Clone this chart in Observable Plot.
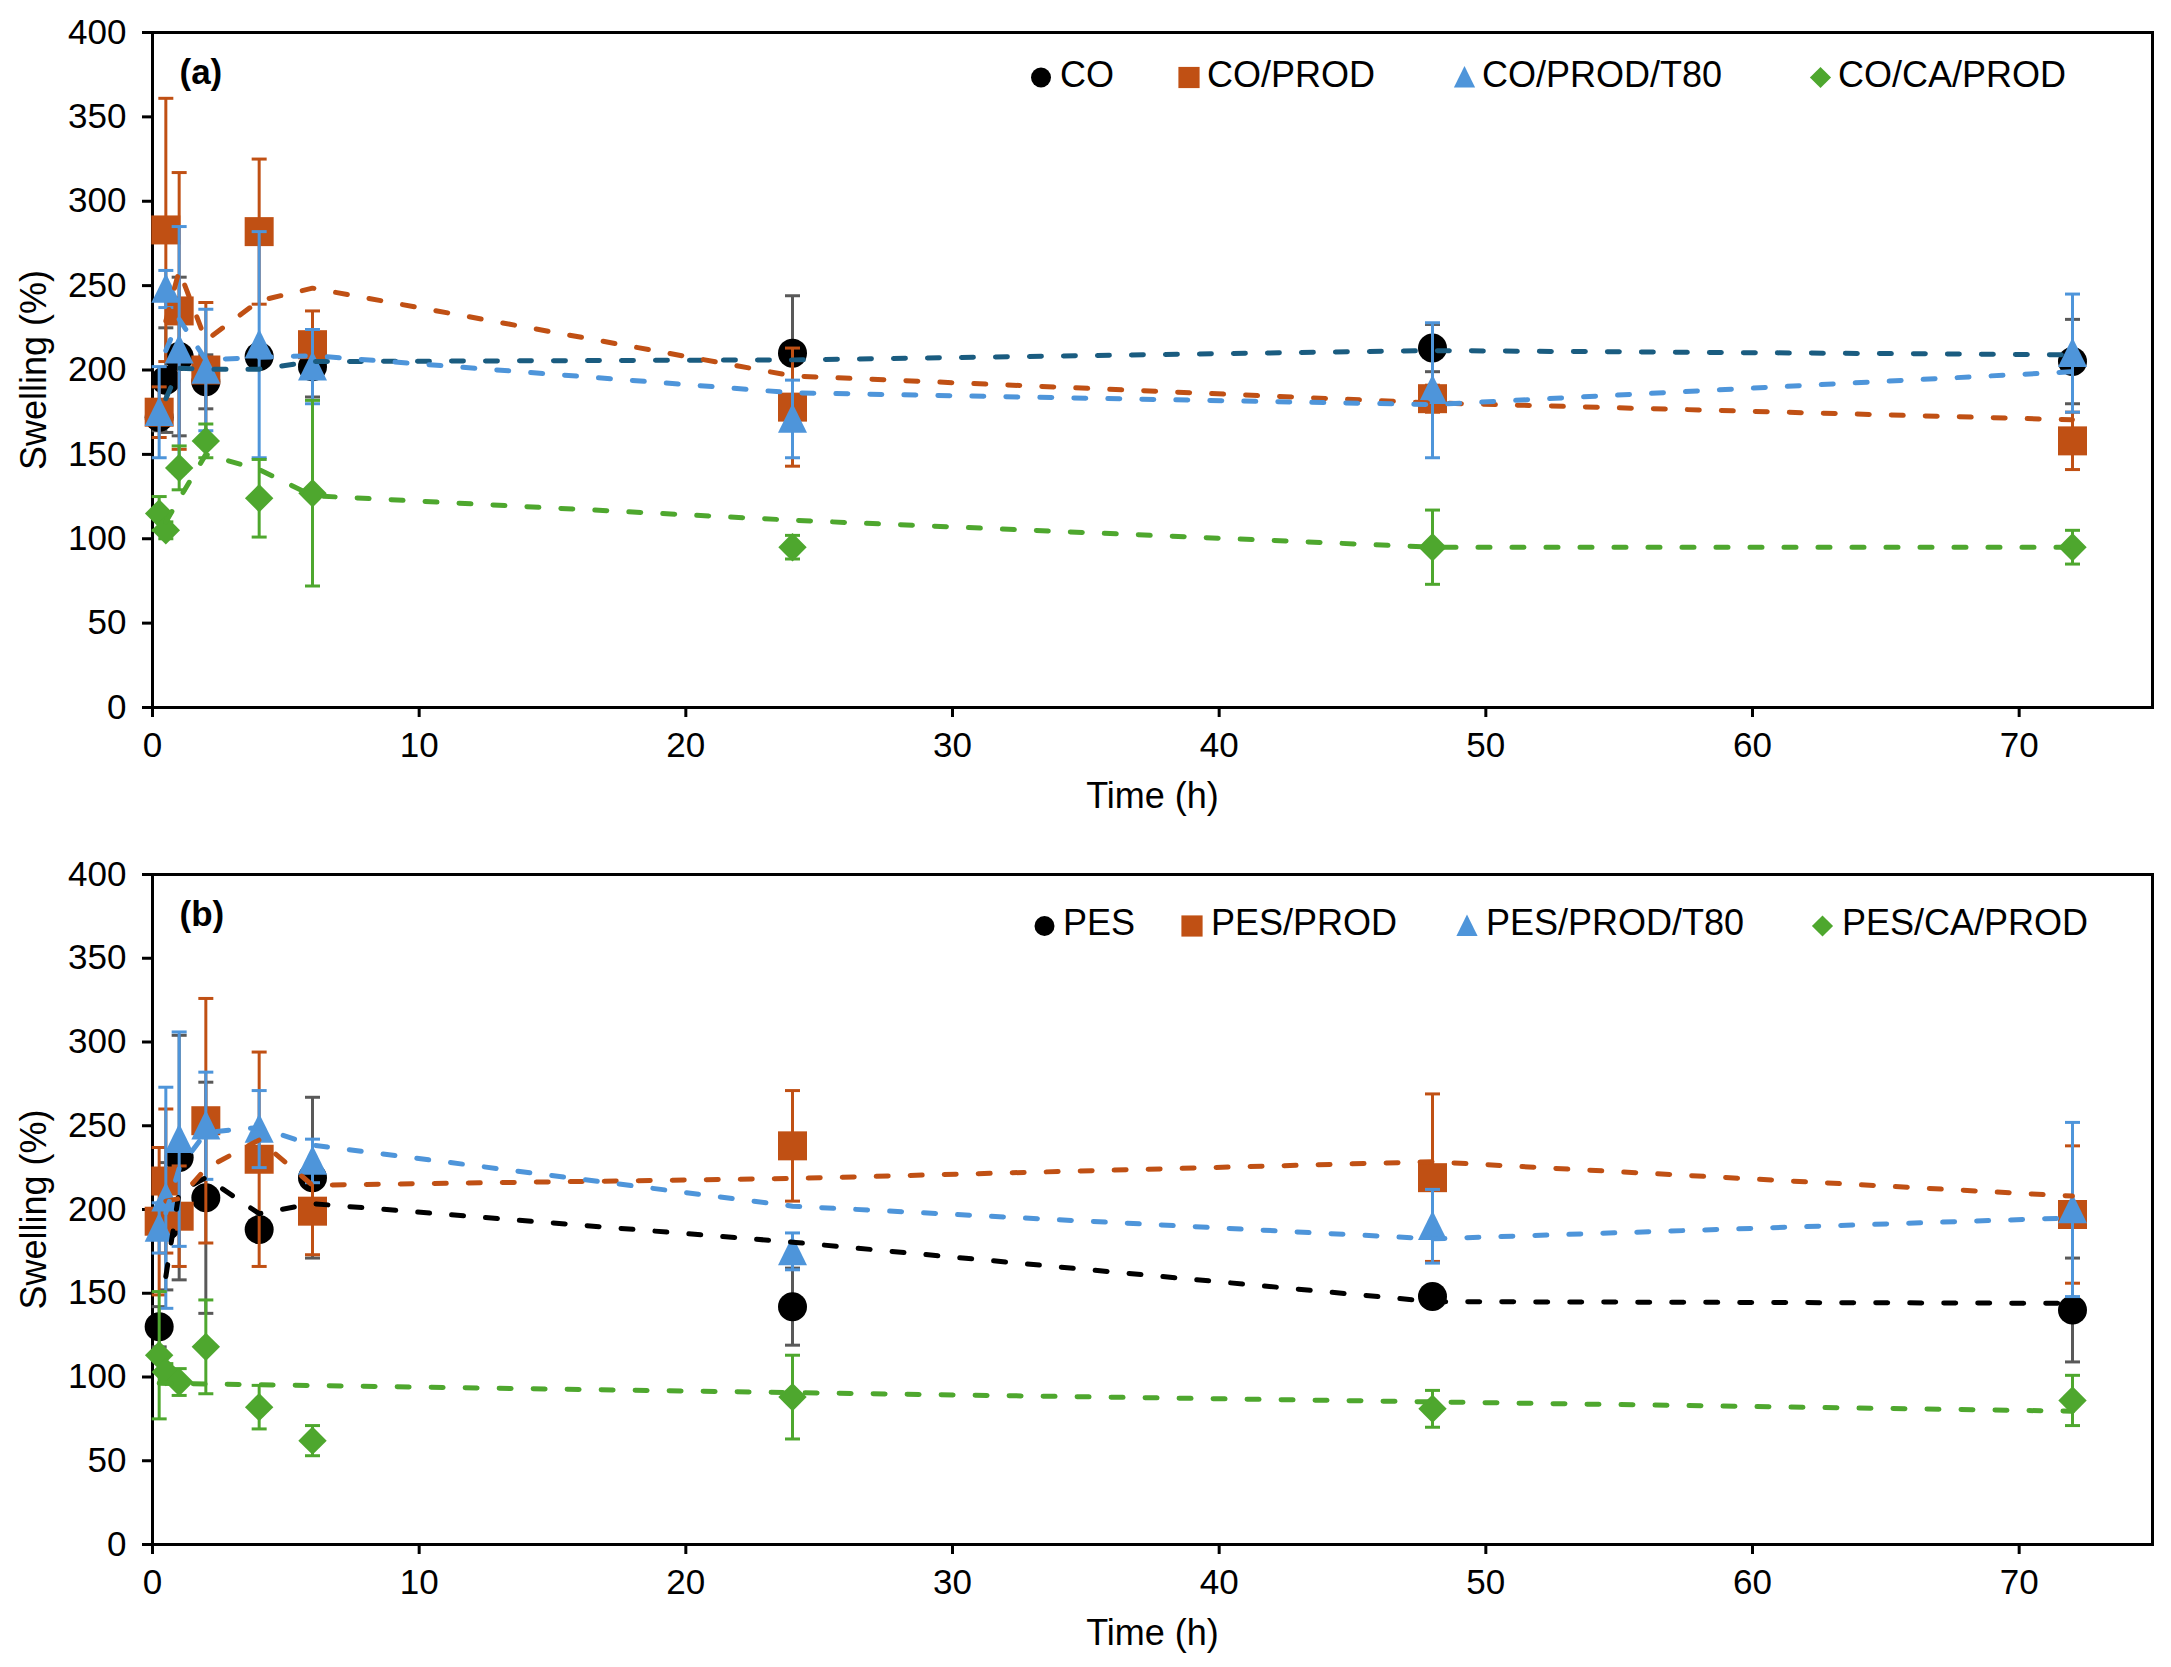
<!DOCTYPE html>
<html>
<head>
<meta charset="utf-8">
<script src="https://cdn.jsdelivr.net/npm/d3@7"></script>
<script src="https://cdn.jsdelivr.net/npm/@observablehq/plot@0.6"></script>
<style>
  body { margin: 0; background: #fff; }
  #chart { position: relative; width: 2171px; }
  .panel { position: relative; width: 2171px; }
  .panel > svg { display: block; }
</style>
</head>
<body>
<div id="chart"></div>
<script>
// ---------------- DATA ----------------
const times = [0.25, 0.5, 1, 2, 4, 6, 24, 48, 72];
const xTicks = [0, 10, 20, 30, 40, 50, 60, 70];
const yTicks = [0, 50, 100, 150, 200, 250, 300, 350, 400];

// Panel (a)
const aNames = ["CO", "CO/PROD", "CO/PROD/T80", "CO/CA/PROD"];
const aCO        = [172, 194, 208, 193, 208, 202, 210, 213, 205];
const aCOErr     = [8, 31, 47, 16, 6, 18, 34, 14, 25];
const aCOPROD    = [175, 283, 235, 200, 282, 215, 178, 183, 158];
const aCOPRODErr = [15, 78, 82, 40, 43, 20, 35, 8, 17];
const aT80       = [175, 248, 212, 200, 215, 202, 171, 188, 210];
const aT80Err    = [27, 11, 73, 36, 67, 22, 23, 40, 35];
const aCA        = [115, 105, 142, 158, 124, 127, 95, 95, 95];
const aCAErr     = [10, 5, 13, 10, 23, 55, 7, 22, 10];

// Panel (b)
const bNames = ["PES", "PES/PROD", "PES/PROD/T80", "PES/CA/PROD"];
const bPES       = [130, 190, 231, 207, 188, 219, 142, 148, 140];
const bPESErr    = [12, 38, 73, 69, 6, 48, 23, 5, 31];
const bPROD      = [193, 217, 196, 253, 230, 199, 238, 219, 197];
const bPRODErr   = [44, 43, 30, 73, 64, 26, 33, 50, 41];
const bT80       = [189, 207, 242, 250, 248, 229, 175, 190, 200];
const bT80Err    = [15, 66, 64, 32, 23, 13, 11, 22, 52];
const bCA        = [113, 103, 97, 118, 82, 62, 88, 81, 86];
const bCAErr     = [38, 5, 8, 28, 13, 9, 25, 11, 15];

// ---------------- STYLE ----------------
const FONT = "'Liberation Sans', Arial, Helvetica, sans-serif";
const ORANGE = "#C05014", BLUE = "#4E95DA", GREEN = "#4EA72E", GRAY = "#595959", TEAL = "#1A5C80";

function shape(kind, s) {
  return {
    draw(ctx) {
      if (kind === "circle") { ctx.moveTo(s, 0); ctx.arc(0, 0, s, 0, 2 * Math.PI); }
      else if (kind === "square") { ctx.rect(-s, -s, 2 * s, 2 * s); }
      else if (kind === "triangle") { ctx.moveTo(0, -1.08 * s); ctx.lineTo(s, 0.95 * s); ctx.lineTo(-s, 0.95 * s); ctx.closePath(); }
      else { ctx.moveTo(0, -s); ctx.lineTo(s, 0); ctx.lineTo(0, s); ctx.lineTo(-s, 0); ctx.closePath(); }
    }
  };
}
const capSymbol = { draw(ctx) { ctx.moveTo(-7.5, 0); ctx.lineTo(7.5, 0); } };

function makeSeries(names, vals, errs, styles) {
  return names.map((name, k) => ({ name, values: vals[k], errors: errs[k], ...styles[k] }));
}

const aSeries = makeSeries(aNames, [aCO, aCOPROD, aT80, aCA], [aCOErr, aCOPRODErr, aT80Err, aCAErr], [
  { color: "#000", err: GRAY, line: TEAL, symbol: "circle", size: 14.5, trend: "ma" },
  { color: ORANGE, err: ORANGE, line: ORANGE, symbol: "square", size: 14.5, trend: "ma" },
  { color: BLUE, err: BLUE, line: BLUE, symbol: "triangle", size: 14.5, trend: "ma" },
  { color: GREEN, err: GREEN, line: GREEN, symbol: "diamond", size: 14.2, trend: "ma" }
]);
const bSeries = makeSeries(bNames, [bPES, bPROD, bT80, bCA], [bPESErr, bPRODErr, bT80Err, bCAErr], [
  { color: "#000", err: GRAY, line: "#000", symbol: "circle", size: 14.5, trend: "ma" },
  { color: ORANGE, err: ORANGE, line: ORANGE, symbol: "square", size: 14.5, trend: "ma" },
  { color: BLUE, err: BLUE, line: BLUE, symbol: "triangle", size: 14.5, trend: "ma" },
  { color: GREEN, err: GREEN, line: GREEN, symbol: "diamond", size: 14.2, trend: "linear" }
]);

function panel(cfg) {
  const marks = [
    Plot.frame({ stroke: "black", strokeWidth: 3 }),
    Plot.axisY({ ticks: yTicks, tickSize: 10, tickPadding: 16, strokeWidth: 3, fontSize: 35, label: null }),
    Plot.axisX({ ticks: xTicks, tickSize: 10, tickPadding: 15, strokeWidth: 3, fontSize: 35, label: null }),
    Plot.text([cfg.tag], { frameAnchor: "top-left", dx: 27, dy: 40, textAnchor: "start", lineAnchor: "middle", fontWeight: "bold", fontSize: 35, fill: "black" }),
    Plot.text(["Swelling (%)"], { frameAnchor: "left", dx: -118, rotate: -90, textAnchor: "middle", lineAnchor: "middle", fontSize: 36, fill: "black" }),
    Plot.text(["Time (h)"], { frameAnchor: "bottom", dy: 89, textAnchor: "middle", lineAnchor: "middle", fontSize: 36, fill: "black" })
  ];
  const rowsOf = s => times.map((t, i) => ({ t, v: s.values[i], e: s.errors[i] }));
  for (const s of cfg.series) {
    const d = rowsOf(s);
    marks.push(Plot.ruleX(d, { x: "t", y1: r => r.v - r.e, y2: r => r.v + r.e, stroke: s.err, strokeWidth: 3 }));
    marks.push(Plot.dot(d, { x: "t", y: r => r.v + r.e, symbol: capSymbol, fill: "none", stroke: s.err, strokeWidth: 3 }));
    marks.push(Plot.dot(d, { x: "t", y: r => r.v - r.e, symbol: capSymbol, fill: "none", stroke: s.err, strokeWidth: 3 }));
    marks.push(Plot.dot(d, { x: "t", y: "v", symbol: shape(s.symbol, s.size), fill: s.color, stroke: "none" }));
  }
  for (const s of cfg.series) {
    const d = rowsOf(s);
    const lineStyle = { stroke: s.line, strokeWidth: 5, strokeDasharray: "12,22", strokeLinecap: "round", strokeLinejoin: "round" };
    if (s.trend === "ma") {
      marks.push(Plot.lineY(d, Plot.windowY({ k: 2, anchor: "end", strict: true }, { x: "t", y: "v", ...lineStyle })));
    } else {
      marks.push(Plot.linearRegressionY(d, { x: "t", y: "v", ci: 0, ...lineStyle }));
    }
  }
  const plot = Plot.plot({
    width: 2171,
    height: cfg.height,
    marginLeft: 152,
    marginRight: 19,
    marginTop: cfg.marginTop,
    marginBottom: cfg.marginBottom,
    x: { domain: [0, 75] },
    y: { domain: [0, 400] },
    style: { fontFamily: FONT, fontSize: "35px", color: "black", background: "white", overflow: "visible" },
    marks
  });

  const wrap = document.createElement("div");
  wrap.className = "panel";
  wrap.appendChild(plot);

  // legend overlay
  const lg = d3.create("svg").attr("width", 2171).attr("height", cfg.height)
    .style("position", "absolute").style("left", "0px").style("top", "0px").style("overflow", "visible");
  cfg.series.forEach((s, i) => {
    const p = d3.path();
    shape(s.symbol, s.symbol === "circle" ? 10 : 10.6).draw(p);
    lg.append("path").attr("d", p.toString()).attr("fill", s.color)
      .attr("transform", `translate(${cfg.legend.sym[i]},${cfg.legend.symY})`);
    lg.append("text").attr("x", cfg.legend.txt[i]).attr("y", cfg.legend.base)
      .attr("font-family", FONT).attr("font-size", 36).attr("fill", "black").text(s.name);
  });
  wrap.appendChild(lg.node());
  return wrap;
}

const chart = document.getElementById("chart");
chart.appendChild(panel({
  tag: "(a)", series: aSeries, height: 834, marginTop: 32, marginBottom: 127,
  legend: { sym: [1041, 1189, 1464.5, 1820.5], txt: [1060, 1207, 1482, 1838], symY: 77.5, base: 87 }
}));
chart.appendChild(panel({
  tag: "(b)", series: bSeries, height: 833, marginTop: 40, marginBottom: 123,
  legend: { sym: [1044.5, 1192, 1467, 1822.5], txt: [1063, 1211, 1486, 1842], symY: 92, base: 101 }
}));
</script>
</body>
</html>
